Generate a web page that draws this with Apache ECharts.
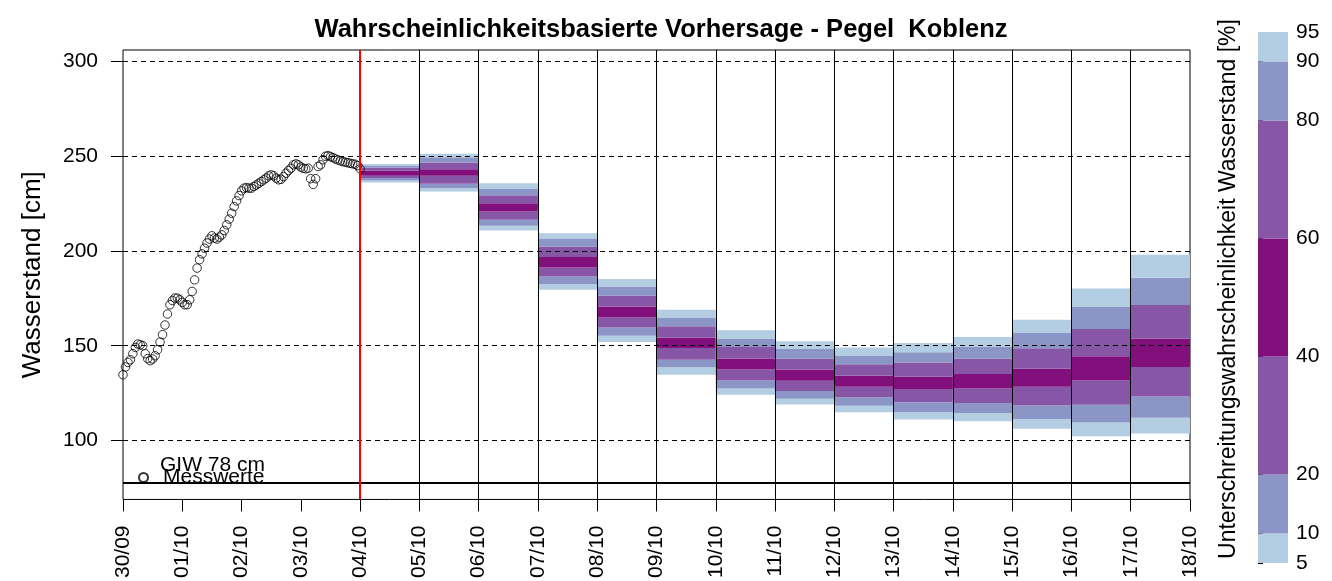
<!DOCTYPE html>
<html>
<head>
<meta charset="utf-8">
<script src="https://cdn.jsdelivr.net/npm/echarts@6/dist/echarts.min.js"></script>
<style>
html,body{margin:0;padding:0;background:#fff;}
#chart{width:1332px;height:581px;}
</style>
</head>
<body>
<div id="chart"></div>
<script>
// Pegel Koblenz - probabilistic forecast

var dayLabels = ['30/09','01/10','02/10','03/10','04/10','05/10','06/10','07/10','08/10','09/10',
                 '10/10','11/10','12/10','13/10','14/10','15/10','16/10','17/10','18/10'];

// hourly observations 30/09 00:00 .. 04/10 00:00
var obsLevel = [
    134.7,138.8,141.2,142.6,145.8,149.1,150.9,150.5,150.0,145.8,143.2,142.1,
    143.0,144.7,147.9,151.9,155.8,160.9,166.7,171.6,173.8,175.1,175.1,174.2,
    172.8,171.6,171.6,174.2,178.6,184.7,190.9,195.3,198.4,201.4,204.1,206.2,
    207.9,206.7,206.2,207.2,208.4,210.7,213.7,216.7,219.8,223.3,226.3,229.1,
    231.6,233.0,233.3,233.0,233.0,233.9,234.7,235.6,236.5,237.4,238.3,239.5,
    240.0,239.5,238.3,237.4,237.7,239.1,240.9,242.3,243.5,245.3,245.8,245.3,
    244.1,243.5,243.2,243.5,238.0,235.0,238.0,244.4,245.3,248.0,249.8,250.2,
    249.6,249.1,248.4,247.9,247.4,247.0,246.7,246.4,246.1,245.8,245.6,244.9,
    243.2
];

// forecast days (index into dayLabels), each box spans one day
var fcDay = [4,5,6,7,8,9,10,11,12,13,14,15,16,17];
var q05 = [236.0,231.2,210.7,179.5,152.0,134.7,124.2,119.0,114.9,111.1,110.2,106.2,102.3,103.7];
var q10 = [237.0,233.0,213.2,182.5,155.3,138.6,127.4,122.1,118.4,115.1,114.6,111.4,109.6,112.1];
var q20 = [238.3,235.3,216.3,186.5,159.6,142.6,131.7,126.2,122.8,120.2,119.8,118.6,118.9,123.2];
var q40 = [239.5,239.5,220.7,191.2,164.9,148.8,137.4,131.6,128.4,127.2,127.5,128.4,131.7,138.8];
var q60 = [242.3,243.0,225.1,196.7,170.7,154.2,143.3,137.4,134.2,133.8,135.1,137.8,144.4,153.7];
var q80 = [243.7,246.5,229.3,202.3,176.5,160.2,149.3,143.2,140.2,141.1,143.2,148.6,158.8,171.4];
var q90 = [244.7,249.3,232.6,206.2,181.2,164.9,153.8,148.3,144.9,146.5,149.6,156.7,170.4,185.8];
var q95 = [245.8,251.1,235.6,209.3,185.1,168.9,158.1,152.3,149.1,151.4,154.6,163.7,180.2,197.9];

var probLevels = [5,10,20,40,60,80,90,95];
var bandColors = ['#B3CDE3','#8C96C6','#8856A7','#810F7C','#8856A7','#8C96C6','#B3CDE3'];
var levelTicks = [100,150,200,250,300];
var giwLevel = 78;
var forecastStart = 4;

var fontName = 'Liberation Sans';

var fcData = [];
for (var i = 0; i < fcDay.length; i++) {
    fcData.push([fcDay[i], q05[i], q10[i], q20[i], q40[i], q60[i], q80[i], q90[i], q95[i]]);
}

var obsData = [];
for (var h = 0; h < obsLevel.length; h++) {
    obsData.push([h / 24, obsLevel[h]]);
}

var barData = [];
for (var b = 0; b < probLevels.length - 1; b++) {
    barData.push([probLevels[b], probLevels[b + 1], b]);
}

function renderForecast(params, api) {
    var d = api.value(0);
    var kids = [];
    for (var j = 0; j < 7; j++) {
        var p1 = api.coord([d, api.value(j + 1)]);
        var p2 = api.coord([d + 1, api.value(j + 2)]);
        kids.push({
            type: 'rect',
            shape: {x: p1[0], y: p2[1], width: p2[0] - p1[0], height: p1[1] - p2[1]},
            style: {fill: bandColors[j]}
        });
    }
    return {type: 'group', children: kids};
}

function renderBar(params, api) {
    var p1 = api.coord([0, api.value(0)]);
    var p2 = api.coord([1, api.value(1)]);
    return {
        type: 'rect',
        shape: {x: p1[0], y: p2[1], width: p2[0] - p1[0], height: p1[1] - p2[1]},
        style: {fill: bandColors[api.value(2)]}
    };
}

var lines = [];
for (var g = 0; g < levelTicks.length; g++) {
    lines.push({yAxis: levelTicks[g], lineStyle: {color: '#000', width: 1, type: [5, 4]}});
}
for (var v = forecastStart + 1; v < dayLabels.length - 1; v++) {
    lines.push({xAxis: v, lineStyle: {color: '#000', width: 1, type: 'solid'}});
}
lines.push({yAxis: giwLevel, lineStyle: {color: '#000', width: 2, type: 'solid'}});
lines.push({xAxis: forecastStart, lineStyle: {color: '#FF0000', width: 2, type: 'solid'}});

var myChart = echarts.init(document.getElementById('chart'), null, {renderer: 'canvas'});

var option = {
    backgroundColor: '#fff',
    animation: false,
    textStyle: {fontFamily: fontName, color: '#000'},
    title: {
        text: 'Wahrscheinlichkeitsbasierte Vorhersage - Pegel  Koblenz',
        left: 656, top: 12, textAlign: 'center',
        textStyle: {fontFamily: fontName, fontSize: 25.5, fontWeight: 'bold', color: '#000'}
    },
    legend: {
        data: ['Messwerte'],
        left: 133, top: 462,
        itemWidth: 9, itemHeight: 9,
        selectedMode: false,
        textStyle: {fontFamily: fontName, fontSize: 21, color: '#000', padding: [0, 0, 0, 10]}
    },
    grid: [
        {left: 123, right: 142, top: 50, bottom: 81, show: true, borderColor: '#000', borderWidth: 1},
        {left: 1258, width: 30, top: 32, bottom: 18}
    ],
    xAxis: [
        {
            type: 'value', min: 0, max: 18, interval: 1, gridIndex: 0,
            axisLine: {show: false},
            axisTick: {show: true, length: 12, lineStyle: {color: '#000'}},
            splitLine: {show: false},
            axisLabel: {
                rotate: 90, margin: 26, fontSize: 21, color: '#000', fontFamily: fontName,
                formatter: function (val) { return dayLabels[Math.round(val)]; }
            }
        },
        {type: 'value', min: 0, max: 1, gridIndex: 1, show: false}
    ],
    yAxis: [
        {
            type: 'value', min: 69, max: 305.8, gridIndex: 0,
            name: 'Wasserstand [cm]', nameLocation: 'middle', nameGap: 77,
            nameTextStyle: {fontSize: 26, color: '#000', fontFamily: fontName},
            axisLine: {show: false},
            axisTick: {show: true, length: 12, customValues: levelTicks, lineStyle: {color: '#000'}},
            splitLine: {show: false},
            axisLabel: {customValues: levelTicks, margin: 25, fontSize: 21, color: '#000', fontFamily: fontName}
        },
        {
            type: 'value', min: 5, max: 95, gridIndex: 1, position: 'right',
            axisLine: {show: false},
            axisTick: {show: true, length: 5, customValues: probLevels, lineStyle: {color: '#000'}},
            splitLine: {show: false},
            axisLabel: {customValues: probLevels, margin: 8, fontSize: 21, color: '#000', fontFamily: fontName}
        }
    ],
    graphic: [
        {
            type: 'text', left: 160, top: 455,
            style: {text: 'GIW 78 cm', font: '21px "Liberation Sans"', fill: '#000'}
        },
        {
            type: 'text', x: 1229, y: 289, rotation: Math.PI / 2,
            style: {
                text: 'Unterschreitungswahrscheinlichkeit Wasserstand [%]',
                font: '23px "Liberation Sans"', fill: '#000',
                align: 'center', verticalAlign: 'middle'
            }
        }
    ],
    series: [
        {
            name: 'Vorhersage', type: 'custom', xAxisIndex: 0, yAxisIndex: 0, z: 1,
            renderItem: renderForecast,
            encode: {x: 0, y: [1, 2, 3, 4, 5, 6, 7, 8]},
            data: fcData, silent: true
        },
        {
            name: 'Messwerte', type: 'scatter', xAxisIndex: 0, yAxisIndex: 0, z: 3,
            symbol: 'circle', symbolSize: 8.5,
            itemStyle: {color: 'rgba(0,0,0,0)', borderColor: '#000', borderWidth: 1},
            data: obsData, silent: true,
            markLine: {
                silent: true, symbol: ['none', 'none'],
                label: {show: false}, animation: false,
                data: lines
            }
        },
        {
            name: 'Skala', type: 'custom', xAxisIndex: 1, yAxisIndex: 1,
            renderItem: renderBar,
            encode: {x: -1, y: [0, 1]},
            data: barData, silent: true
        }
    ]
};

myChart.setOption(option);
</script>
</body>
</html>
